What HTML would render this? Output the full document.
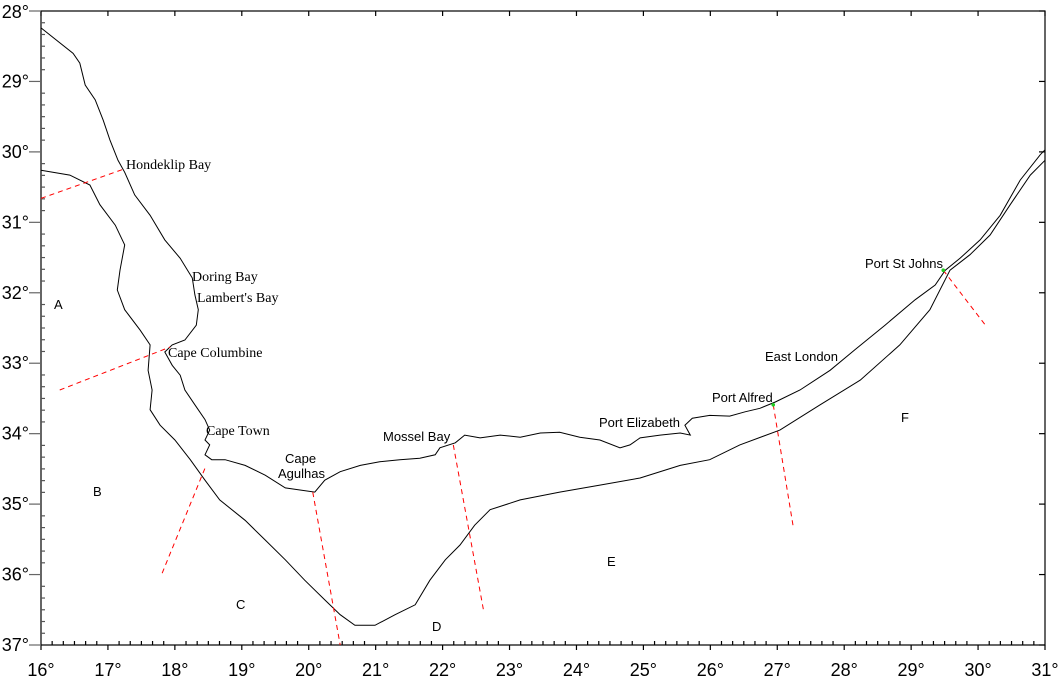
<!DOCTYPE html>
<html><head><meta charset="utf-8"><style>
html,body{margin:0;padding:0;background:#fff;}
svg{display:block;}
.ser{font-family:"Liberation Serif",serif;font-size:14px;}
.san{font-family:"Liberation Sans",sans-serif;font-size:13px;}
.tick{font-family:"Liberation Sans",sans-serif;font-size:18px;}
</style></head><body>
<svg id="map" width="1060" height="682" viewBox="0 0 1060 682" xmlns="http://www.w3.org/2000/svg"></svg>
<script>
const lonTicks=[16,17,18,19,20,21,22,23,24,25,26,27,28,29,30,31];
const latTicks=[28,29,30,31,32,33,34,35,36,37];
const coastLon=[16.00,16.48,16.58,16.66,16.81,16.93,17.03,17.15,17.25,17.40,17.63,17.85,18.08,18.26,18.30,18.35,18.32,18.15,17.96,17.85,17.96,18.08,18.15,18.30,18.45,18.52,18.45,18.52,18.45,18.55,18.75,19.05,19.35,19.65,19.87,20.09,20.24,20.47,20.77,21.06,21.36,21.66,21.89,21.96,22.19,22.33,22.56,22.86,23.16,23.46,23.75,24.05,24.35,24.65,24.80,24.95,25.25,25.55,25.70,25.62,25.73,25.99,26.29,26.52,26.74,26.97,27.34,27.79,28.16,28.61,29.06,29.36,29.51,29.73,30.03,30.33,30.63,30.93,31.00];
const coastLat=[28.24,28.60,28.74,29.05,29.26,29.55,29.83,30.12,30.29,30.61,30.90,31.25,31.51,31.79,32.03,32.24,32.46,32.67,32.74,32.84,33.03,33.17,33.38,33.59,33.80,33.95,34.09,34.16,34.30,34.37,34.37,34.45,34.59,34.77,34.80,34.83,34.66,34.54,34.45,34.40,34.37,34.35,34.30,34.20,34.13,34.02,34.06,34.02,34.05,33.99,33.98,34.05,34.09,34.20,34.16,34.06,34.02,33.99,34.02,33.88,33.78,33.74,33.75,33.69,33.64,33.55,33.38,33.10,32.81,32.46,32.10,31.89,31.68,31.51,31.25,30.90,30.40,30.04,29.97];
const shelfLon=[16.00,16.43,16.73,16.88,17.11,17.25,17.18,17.14,17.25,17.48,17.63,17.60,17.66,17.63,17.78,18.00,18.23,18.45,18.67,19.05,19.35,19.65,19.94,20.24,20.47,20.69,20.99,21.29,21.59,21.81,22.04,22.26,22.48,22.71,23.16,23.75,24.35,24.95,25.55,25.99,26.44,27.04,27.64,28.24,28.83,29.28,29.58,29.88,30.18,30.48,30.78,31.00];
const shelfLat=[30.26,30.33,30.47,30.75,31.04,31.32,31.68,31.96,32.24,32.53,32.74,33.10,33.38,33.66,33.88,34.09,34.37,34.66,34.94,35.23,35.51,35.79,36.08,36.36,36.57,36.72,36.72,36.57,36.43,36.08,35.79,35.58,35.30,35.08,34.94,34.83,34.73,34.63,34.45,34.37,34.16,33.95,33.59,33.24,32.74,32.24,31.68,31.46,31.18,30.75,30.33,30.12];
const boundaryNames=["hondeklip","cape-columbine","cape-town","cape-agulhas","mossel-bay","port-alfred","port-st-johns"];
const boundaryLon0=[16.00,16.28,17.81,20.06,22.16,26.94,29.48];
const boundaryLat0=[30.66,33.38,35.98,34.83,34.16,33.59,31.68];
const boundaryLon1=[17.25,17.93,18.45,20.47,22.61,27.24,30.11];
const boundaryLat1=[30.24,32.77,34.49,37.00,36.50,35.33,32.46];

const X0=41,X1=1045,Y0=11,Y1=645;
const sx=lon=>X0+(lon-16)*(X1-X0)/15;
const sy=lat=>Y0+(lat-28)*(Y1-Y0)/9;
const NS="http://www.w3.org/2000/svg";
const svg=document.getElementById('map');
function mk(tag,attrs,parent){const e=document.createElementNS(NS,tag);for(const k in attrs)e.setAttribute(k,attrs[k]);(parent||svg).appendChild(e);return e;}

const frame=mk('rect',{x:X0,y:Y0,width:X1-X0,height:Y1-Y0,fill:'none',stroke:'#000','stroke-width':1.2});



const tg=mk('g',{stroke:'#000','stroke-width':1.2});


lonTicks.forEach(l=>{const x=sx(l);
  mk('line',{x1:x,y1:Y1,x2:x,y2:Y1+5},tg);
  mk('line',{x1:x,y1:Y0,x2:x,y2:Y0+5},tg);
  if(l<31)for(let k=1;k<6;k++){const xm=sx(l+k/6);mk('line',{x1:xm,y1:Y1,x2:xm,y2:Y1-4},tg);}
  const t=mk('text',{x:x,y:Y1+31,'text-anchor':'middle',class:'tick',fill:'#000',stroke:'none'});
  t.textContent=l+'°';
  
  
});
latTicks.forEach(l=>{const y=sy(l);
  mk('line',{x1:X0-12,y1:y,x2:X0,y2:y,stroke:'#666'},tg);
  mk('line',{x1:X1,y1:y,x2:X1-6,y2:y},tg);
  if(l<37)for(let k=1;k<6;k++){const ym=sy(l+k/6);mk('line',{x1:X0,y1:ym,x2:X0+4,y2:ym,stroke:'#555'},tg);}
  const t=mk('text',{x:X0-12,y:y+(l===28?7:6),'text-anchor':'end',class:'tick',fill:'#000',stroke:'none'});
  t.textContent=l+'°';
  
  
});

function pts(lo,la){return lo.map((v,i)=>sx(v).toFixed(1)+','+sy(la[i]).toFixed(1)).join(' ');}
const coast=mk('polyline',{points:pts(coastLon,coastLat),fill:'none',stroke:'#000','stroke-width':1});


const shelf=mk('polyline',{points:pts(shelfLon,shelfLat),fill:'none',stroke:'#000','stroke-width':1});



boundaryNames.forEach((n,i)=>{
  const b=mk('line',{x1:sx(boundaryLon0[i]),y1:sy(boundaryLat0[i]),x2:sx(boundaryLon1[i]),y2:sy(boundaryLat1[i]),stroke:'#f00','stroke-width':1,'stroke-dasharray':'5,4'});
  
  
});
[[26.94,33.59],[29.48,31.68]].forEach(p=>{
  const c=mk('circle',{cx:sx(p[0]),cy:sy(p[1]),r:1.8,fill:'#2c2'});
  
  
});

const labels=[
 ['Hondeklip Bay',126,169,'ser'],['Doring Bay',192,281,'ser'],["Lambert's Bay",197,302,'ser'],
 ['Cape Columbine',168,357,'ser'],['Cape Town',206,435,'ser'],
 ['Cape',285,463,'san'],['Agulhas',278,478,'san'],['Mossel Bay',383,441,'san'],
 ['Port Elizabeth',599,427,'san'],['Port Alfred',712,402,'san'],['East London',765,361,'san'],
 ['Port St Johns',865,268,'san'],
 ['A',54,309,'san'],['B',93,496,'san'],['C',236,609,'san'],['D',432,631,'san'],['E',607,566,'san'],['F',901,422,'san']
];
labels.forEach(l=>{
  const t=mk('text',{x:l[1],y:l[2],class:l[3],fill:'#000'});
  t.textContent=l[0];
  
  
});
</script>
</body></html>
